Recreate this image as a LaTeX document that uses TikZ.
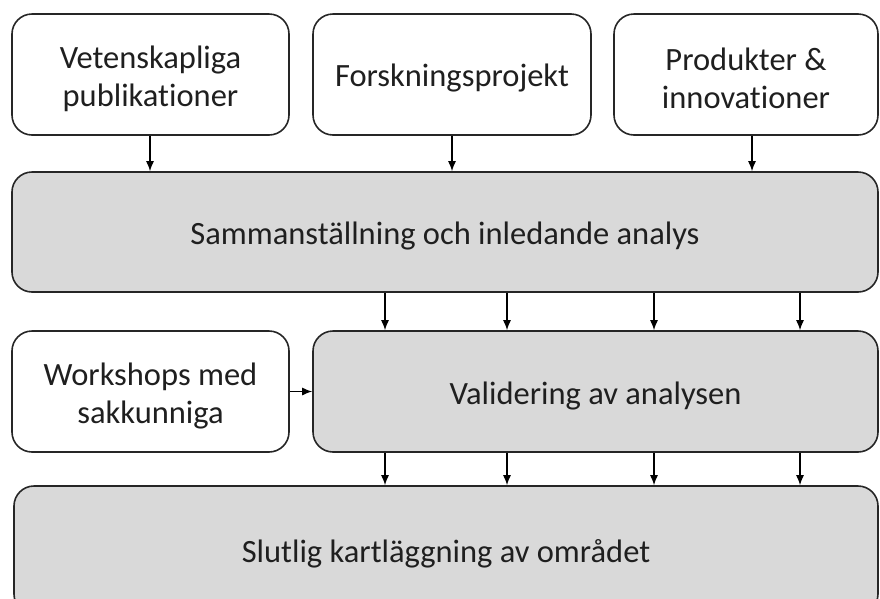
\documentclass[tikz,border=0pt]{standalone}
\usepackage{fontspec}
\setmainfont[Ligatures=NoCommon]{Carlito}
\usetikzlibrary{arrows.meta}
\definecolor{boxgray}{HTML}{D9D9D9}
\definecolor{edge}{HTML}{262626}
\tikzset{
  box/.style={draw=edge, line width=1.6pt, rounded corners=20pt, inner sep=0pt},
  whitebox/.style={box, fill=white},
  graybox/.style={box, fill=boxgray},
  txt/.style={align=center, font=\fontsize{32.5}{38}\selectfont, text=black!88, yshift=-4pt},
  arr/.style={draw=black, line width=1.3pt, -{Latex[length=10pt,width=8pt]}}
}
\begin{document}
\begin{tikzpicture}[x=1pt,y=-1pt]
\clip (0,0) rectangle (880,598);
\useasboundingbox (0,0) rectangle (880,598);
\node[whitebox, minimum width=277pt, minimum height=121pt, label={[txt]center:{Vetenskapliga\\publikationer}}] (b1) at (150.5,74.5) {};
\node[whitebox, minimum width=278pt, minimum height=121pt, label={[txt]center:Forskningsprojekt}] (b2) at (452,74.5) {};
\node[whitebox, minimum width=264pt, minimum height=121pt, label={[txt]center:{Produkter \&\\innovationer}}] (b3) at (746,74.5) {};
\node[graybox, minimum width=866pt, minimum height=120pt, label={[txt]center:Sammanställning och inledande analys}] (big) at (445,232) {};
\node[whitebox, minimum width=277pt, minimum height=121pt, label={[txt]center:{Workshops med\\sakkunniga}}] (ws) at (150.5,391.5) {};
\node[graybox, minimum width=565pt, minimum height=121pt, label={[txt]center:Validering av analysen}] (val) at (595.5,391.5) {};
\node[graybox, minimum width=864pt, minimum height=128pt, label={[txt]center:Slutlig kartläggning av området}] (fin) at (446,550) {};
\coordinate (a1) at (150,0);
\coordinate (a2) at (452,0);
\coordinate (a3) at (752,0);
\coordinate (c1) at (385,0);
\coordinate (c2) at (507,0);
\coordinate (c3) at (654,0);
\coordinate (c4) at (800,0);
\draw[arr] (b1.south -| a1) -- (big.north -| a1);
\draw[arr] (b2.south -| a2) -- (big.north -| a2);
\draw[arr] (b3.south -| a3) -- (big.north -| a3);
\foreach \c in {c1,c2,c3,c4}{
  \draw[arr] (big.south -| \c) -- (val.north -| \c);
  \draw[arr] (val.south -| \c) -- (fin.north -| \c);
}
\draw[arr] (ws.east) -- (val.west);
\end{tikzpicture}
\end{document}
